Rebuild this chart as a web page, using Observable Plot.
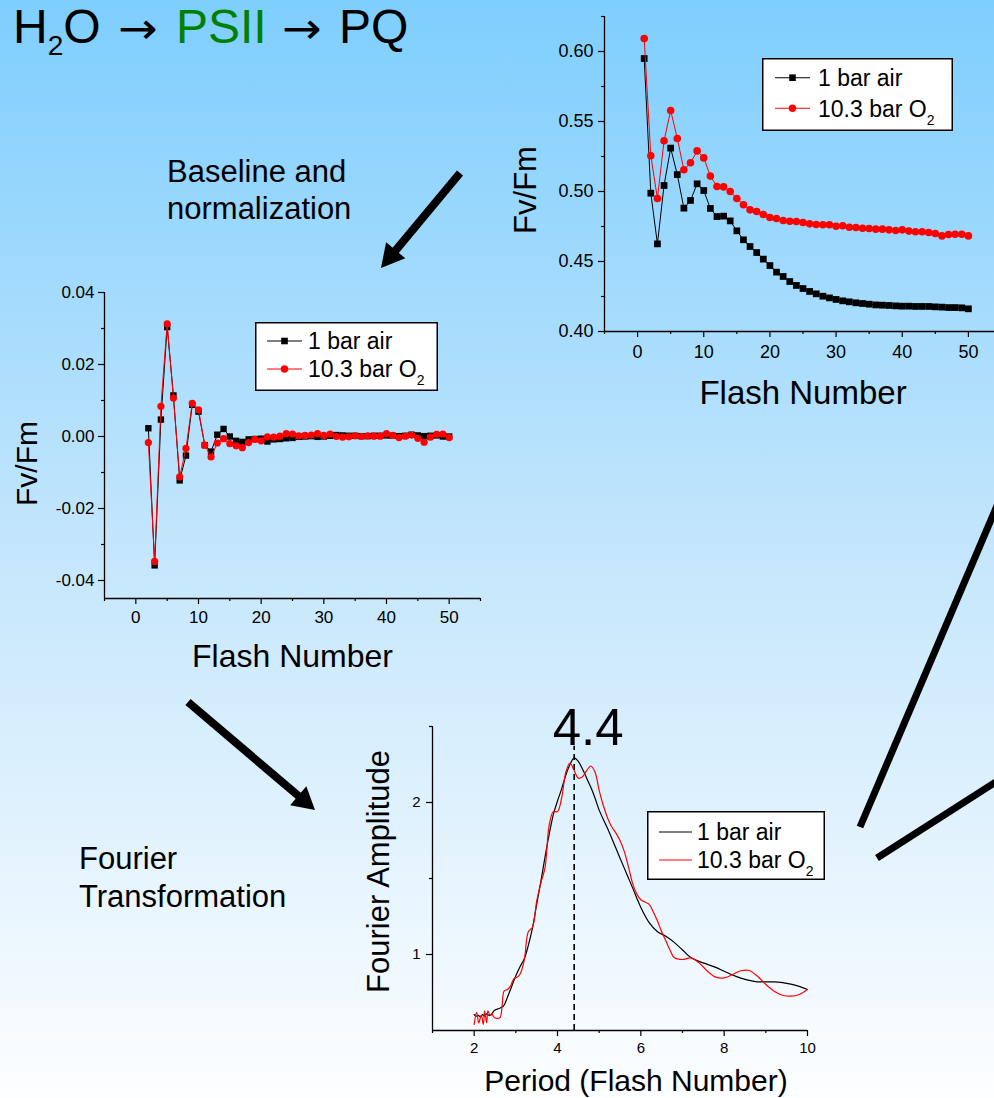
<!DOCTYPE html>
<html>
<head>
<meta charset="utf-8">
<script src="https://cdn.jsdelivr.net/npm/d3@7"></script>
<script src="https://cdn.jsdelivr.net/npm/@observablehq/plot@0.6"></script>
<style>
  html, body { margin: 0; padding: 0; overflow: hidden; }
  body {
    width: 994px; height: 1098px; position: relative;
    background: linear-gradient(to bottom, #7ecefe 0%, #c4e6fc 50%, #fdfeff 100%);
    font-family: "Liberation Sans", Arial, Helvetica, sans-serif;
  }
  .chart { position: absolute; }
</style>
</head>
<body>
<script>
// ---------------- DATA ----------------
const seriesNames = ["1 bar air", "10.3 bar O2"];
const seriesColors = ["#000000", "#ff0000"];

const flashNumbers = [1,2,3,4,5,6,7,8,9,10,11,12,13,14,15,16,17,18,19,20,21,22,23,24,25,26,27,28,29,30,31,32,33,34,35,36,37,38,39,40,41,42,43,44,45,46,47,48,49,50];

// Raw Fv/Fm (top-right chart)
const rawAir = [0.595,0.4988,0.4626,0.5043,0.531,0.5121,0.4881,0.4936,0.5055,0.5007,0.4879,0.4821,0.4824,0.479,0.4719,0.4655,0.4607,0.4564,0.4517,0.4471,0.4424,0.4393,0.4357,0.4329,0.4307,0.4286,0.4269,0.4252,0.424,0.4229,0.4219,0.4212,0.4205,0.42,0.4195,0.419,0.4188,0.4186,0.4183,0.4181,0.4181,0.4179,0.4179,0.4179,0.4176,0.4174,0.4171,0.4171,0.4169,0.4162];
const rawO2 = [0.6093,0.5255,0.495,0.5362,0.5579,0.5379,0.5155,0.5205,0.529,0.524,0.511,0.5036,0.5033,0.5,0.495,0.4905,0.4869,0.4857,0.4836,0.4814,0.4807,0.4793,0.4788,0.4786,0.4779,0.4769,0.4764,0.4762,0.4762,0.4752,0.4755,0.4745,0.4743,0.4738,0.4736,0.4731,0.4731,0.4726,0.4721,0.4726,0.4717,0.4712,0.4712,0.4707,0.47,0.4683,0.4693,0.4695,0.4695,0.4683];

// Baseline-corrected, normalized Fv/Fm (flashes 2..50)
const normFlashes = [2,3,4,5,6,7,8,9,10,11,12,13,14,15,16,17,18,19,20,21,22,23,24,25,26,27,28,29,30,31,32,33,34,35,36,37,38,39,40,41,42,43,44,45,46,47,48,49,50];
const normAir = [0.0023,-0.0358,0.0047,0.0304,0.0114,-0.0122,-0.0053,0.0088,0.0069,-0.0024,-0.0042,0.0005,0.0021,0.0,-0.0012,-0.0015,-0.0008,-0.0007,-0.0006,-0.0014,-0.0008,-0.0007,-0.0005,-0.0004,-0.0001,0.0,0.0001,-0.0001,0.0,0.0002,0.0004,0.0003,0.0002,0.0002,0.0001,0.0001,0.0002,0.0002,0.0003,0.0002,0.0001,0.0002,0.0005,0.0003,0.0001,0.0002,0.0003,0.0,0.0];
const normO2 = [-0.0017,-0.0347,0.0084,0.0313,0.0107,-0.0112,-0.0033,0.0092,0.0074,-0.0024,-0.0057,-0.0018,-0.0006,-0.002,-0.0026,-0.0031,-0.0017,-0.0008,-0.0012,-0.0001,-0.0002,0.0001,0.0008,0.0007,0.0002,0.0003,0.0004,0.0008,0.0003,0.0007,0.0,-0.0002,-0.0001,0.0002,0.0,0.0002,0.0001,0.0001,0.0008,0.0003,-0.0003,0.0001,0.0004,-0.0005,-0.0016,-0.0002,0.0006,0.0007,-0.0003];

// Fourier amplitude vs period
const periodAir = [2.0,2.05,2.1,2.15,2.2,2.25,2.3,2.35,2.4,2.45,2.5,2.6,2.7,2.8,2.9,3.0,3.1,3.2,3.3,3.4,3.5,3.6,3.7,3.8,3.9,4.0,4.1,4.2,4.3,4.4,4.5,4.6,4.7,4.8,4.9,5.0,5.2,5.4,5.6,5.8,6.0,6.2,6.4,6.6,6.8,7.0,7.2,7.4,7.6,7.8,8.0,8.2,8.4,8.6,8.8,9.0,9.2,9.4,9.6,9.8,10.0];
const ampAir = [0.605,0.595,0.60,0.59,0.605,0.595,0.61,0.60,0.60,0.62,0.635,0.645,0.66,0.72,0.79,0.86,0.92,0.97,1.06,1.175,1.33,1.48,1.64,1.79,1.92,2.01,2.09,2.18,2.25,2.294,2.27,2.22,2.16,2.10,2.03,1.95,1.83,1.70,1.57,1.44,1.31,1.21,1.15,1.12,1.08,1.03,0.98,0.955,0.935,0.915,0.89,0.865,0.845,0.83,0.82,0.82,0.82,0.815,0.805,0.79,0.77];
const periodO2 = [2.0,2.06,2.11,2.17,2.22,2.25,2.30,2.33,2.38,2.43,2.47,2.54,2.62,2.67,2.72,2.8,2.87,2.95,3.03,3.1,3.2,3.3,3.4,3.5,3.6,3.7,3.8,3.9,4.0,4.1,4.2,4.3,4.4,4.5,4.6,4.7,4.8,4.9,5.0,5.1,5.2,5.3,5.4,5.5,5.6,5.7,5.8,5.9,6.0,6.1,6.2,6.3,6.4,6.5,6.6,6.7,6.8,7.0,7.2,7.4,7.6,7.8,8.0,8.2,8.4,8.6,8.8,9.0,9.2,9.4,9.6,9.8,10.0];
const ampO2 = [0.54,0.62,0.55,0.60,0.54,0.63,0.55,0.63,0.60,0.61,0.59,0.58,0.585,0.66,0.76,0.77,0.79,0.84,0.85,0.87,0.96,1.15,1.18,1.35,1.47,1.57,1.85,1.94,1.94,2.03,2.2,2.26,2.21,2.16,2.17,2.21,2.24,2.2,2.08,1.98,1.90,1.84,1.80,1.75,1.68,1.58,1.47,1.40,1.36,1.345,1.33,1.28,1.22,1.15,1.09,1.03,0.98,0.967,0.978,0.945,0.89,0.851,0.846,0.868,0.893,0.895,0.857,0.803,0.759,0.732,0.726,0.737,0.77];
const peakPeriod = 4.4;
const peakLabelY = 2.37;

// Tick values
const flashTicksMajor = [0, 10, 20, 30, 40, 50];
const flashTicksMinor = [-5, 5, 15, 25, 35, 45, 55];
const rawTicksMajor = [0.40, 0.45, 0.50, 0.55, 0.60];
const rawTicksMinor = [0.425, 0.475, 0.525, 0.575, 0.625];
const normTicksMajor = [-0.04, -0.02, 0.00, 0.02, 0.04];
const normTicksMinor = [-0.03, -0.01, 0.01, 0.03];
const periodTicksMajor = [2, 4, 6, 8, 10];
const periodTicksMinor = [1, 3, 5, 7, 9];
const ampTicksMajor = [1, 2];
const ampTicksMinor = [1.5, 2.5];

// ---------------- HELPERS ----------------
const FONT = '"Liberation Sans", Arial, Helvetica, sans-serif';
const fmt2 = d => d.toFixed(2);

function originAxes({xDomain, yDomain, xMajor, xMinor, yMajor, yMinor, xFmt, yFmt, fs, xPad, yPad}) {
  return [
    Plot.axisX({ticks: xMajor, tickSize: 6, tickPadding: xPad, tickFormat: xFmt, fontSize: fs, label: null, strokeWidth: 1.2}),
    Plot.axisX({ticks: xMinor, tickSize: 3, tickFormat: () => "", label: null, strokeWidth: 1.2}),
    Plot.axisY({ticks: yMajor, tickSize: 6, tickPadding: yPad, tickFormat: yFmt, fontSize: fs, label: null, strokeWidth: 1.2}),
    Plot.axisY({ticks: yMinor, tickSize: 3, tickFormat: () => "", label: null, strokeWidth: 1.2}),
    Plot.ruleY([yDomain[0]], {stroke: "#000", strokeWidth: 1.3}),
    Plot.ruleX([xDomain[0]], {stroke: "#000", strokeWidth: 1.3})
  ];
}
const plotStyle = {background: "transparent", fontFamily: FONT, color: "#000", overflow: "visible"};

function place(el, left, top) {
  el.classList.add("chart");
  el.style.left = left + "px";
  el.style.top = top + "px";
  document.body.appendChild(el);
}

function legend({left, top, w, h, rows, sample, textX, fs, markers}) {
  const svg = d3.create("svg").attr("width", w).attr("height", h)
    .style("position", "absolute").style("left", left + "px").style("top", top + "px").style("overflow", "visible");
  svg.append("rect").attr("x", 0.75).attr("y", 0.75).attr("width", w - 1.5).attr("height", h - 1.5)
    .attr("fill", "#fff").attr("stroke", "#000").attr("stroke-width", 1.5);
  seriesNames.forEach((name, i) => {
    const cy = rows[i], color = seriesColors[i];
    svg.append("line").attr("x1", sample[0]).attr("x2", sample[1]).attr("y1", cy).attr("y2", cy)
      .attr("stroke", color).attr("stroke-width", 1.1);
    const mx = (sample[0] + sample[1]) / 2;
    if (markers) {
      if (i === 0) svg.append("rect").attr("x", mx - 3.3).attr("y", cy - 3.3).attr("width", 6.6).attr("height", 6.6).attr("fill", color);
      else svg.append("circle").attr("cx", mx).attr("cy", cy).attr("r", 3.7).attr("fill", color);
    }
    const t = svg.append("text").attr("x", textX).attr("y", cy + 0.358 * fs)
      .attr("font-size", fs).attr("font-family", FONT).attr("fill", "#000");
    const m = name.match(/^(.*O)(2)$/);
    if (m) {
      t.append("tspan").text(m[1]);
      t.append("tspan").attr("font-size", 14).attr("dy", 8).text(m[2]);
    } else t.text(name);
  });
  document.body.appendChild(svg.node());
}

// ---------------- CHART A: raw Fv/Fm ----------------
const rawRows = flashNumbers.map((f, i) => ({flash: f, air: rawAir[i], o2: rawO2[i]}));
const xA = [-5, 55], yA = [0.40, 0.625];
const chartA = Plot.plot({
  width: 501, height: 411, marginLeft: 104, marginRight: 0, marginTop: 16, marginBottom: 80,
  x: {domain: xA, label: null}, y: {domain: yA, label: null},
  style: plotStyle,
  marks: [
    ...originAxes({xDomain: xA, yDomain: yA, xMajor: flashTicksMajor, xMinor: flashTicksMinor,
      yMajor: rawTicksMajor, yMinor: rawTicksMinor, xFmt: d => String(d), yFmt: fmt2, fs: 18, xPad: 8, yPad: 5}),
    Plot.line(rawRows, {x: "flash", y: "air", stroke: seriesColors[0], strokeWidth: 1}),
    Plot.dot(rawRows, {x: "flash", y: "air", symbol: "square", r: 3.8, fill: seriesColors[0]}),
    Plot.line(rawRows, {x: "flash", y: "o2", stroke: seriesColors[1], strokeWidth: 1}),
    Plot.dot(rawRows, {x: "flash", y: "o2", symbol: "circle", r: 3.8, fill: seriesColors[1]}),
    Plot.text(["Flash Number"], {text: d => d, frameAnchor: "bottom", lineAnchor: "top", dy: 49, fontSize: 33}),
    Plot.text(["Fv/Fm"], {text: d => d, frameAnchor: "left", textAnchor: "middle", rotate: -90, lineAnchor: "middle", dx: -78, dy: 16, fontSize: 31})
  ]
});
place(chartA, 500, 0);

// ---------------- CHART B: normalized ----------------
const normRows = normFlashes.map((f, i) => ({flash: f, air: normAir[i], o2: normO2[i]}));
const xB = [-5, 55], yB = [-0.045, 0.04];
const chartB = Plot.plot({
  width: 490, height: 408, marginLeft: 104, marginRight: 10, marginTop: 22, marginBottom: 80,
  x: {domain: xB, label: null}, y: {domain: yB, label: null},
  style: plotStyle,
  marks: [
    ...originAxes({xDomain: xB, yDomain: yB, xMajor: flashTicksMajor, xMinor: flashTicksMinor,
      yMajor: normTicksMajor, yMinor: normTicksMinor, xFmt: d => String(d), yFmt: fmt2, fs: 17, xPad: 6, yPad: 4}),
    Plot.line(normRows, {x: "flash", y: "air", stroke: seriesColors[0], strokeWidth: 1}),
    Plot.dot(normRows, {x: "flash", y: "air", symbol: "square", r: 3.6, fill: seriesColors[0]}),
    Plot.line(normRows, {x: "flash", y: "o2", stroke: seriesColors[1], strokeWidth: 1}),
    Plot.dot(normRows, {x: "flash", y: "o2", symbol: "circle", r: 3.6, fill: seriesColors[1]}),
    Plot.text(["Flash Number"], {text: d => d, frameAnchor: "bottom", lineAnchor: "top", dy: 46, fontSize: 32}),
    Plot.text(["Fv/Fm"], {text: d => d, frameAnchor: "left", textAnchor: "middle", rotate: -90, lineAnchor: "middle", dx: -77, dy: 18, fontSize: 30})
  ]
});
place(chartB, 0, 270);

// ---------------- CHART C: Fourier ----------------
const fAir = periodAir.map((p, i) => ({period: p, amp: ampAir[i]}));
const fO2 = periodO2.map((p, i) => ({period: p, amp: ampO2[i]}));
const xC = [1, 10], yC = [0.5, 2.5];
const chartC = Plot.plot({
  width: 480, height: 408, marginLeft: 92, marginRight: 13, marginTop: 36, marginBottom: 68,
  x: {domain: xC, label: null}, y: {domain: yC, label: null},
  style: plotStyle,
  marks: [
    ...originAxes({xDomain: xC, yDomain: yC, xMajor: periodTicksMajor, xMinor: periodTicksMinor,
      yMajor: ampTicksMajor, yMinor: ampTicksMinor, xFmt: d => String(d), yFmt: d => String(d), fs: 15, xPad: 6, yPad: 6}),
    Plot.ruleX([peakPeriod], {y1: yC[0], y2: peakLabelY, stroke: "#000", strokeWidth: 1.6, strokeDasharray: "6,4"}),
    Plot.line(fAir, {x: "period", y: "amp", stroke: seriesColors[0], strokeWidth: 1.2, curve: "catmull-rom"}),
    Plot.line(fO2, {x: "period", y: "amp", stroke: seriesColors[1], strokeWidth: 1.2, curve: "catmull-rom"}),
    Plot.text([peakPeriod], {x: d => d, y: () => peakLabelY, text: d => d.toFixed(1), lineAnchor: "bottom", dx: 14, dy: -1, fontSize: 51}),
    Plot.text(["Period (Flash Number)"], {text: d => d, frameAnchor: "bottom", lineAnchor: "top", dx: 16, dy: 39, fontSize: 30}),
    Plot.text(["Fourier Amplitude"], {text: d => d, frameAnchor: "left", textAnchor: "middle", rotate: -90, lineAnchor: "middle", dx: -53, dy: -7, fontSize: 31})
  ]
});
place(chartC, 340, 690);

// ---------------- LEGENDS ----------------
legend({left: 762, top: 58, w: 191, h: 73, rows: [19.7, 50.3], sample: [13, 48], textX: 56, fs: 23, markers: true});
legend({left: 255, top: 322, w: 183, h: 69, rows: [19, 47], sample: [12, 47], textX: 53, fs: 23, markers: true});
legend({left: 647, top: 811, w: 178, h: 69, rows: [21, 49], sample: [12, 45], textX: 50, fs: 23, markers: false});

// ---------------- OVERLAY: title, annotations, arrows ----------------
const ov = d3.create("svg").attr("width", 994).attr("height", 1098)
  .style("position", "absolute").style("left", "0px").style("top", "0px").style("pointer-events", "none");

const title = ov.append("text").attr("y", 43).attr("font-size", 48).attr("font-family", FONT).attr("fill", "#000");
title.append("tspan").attr("x", 13).text("H");
title.append("tspan").attr("font-size", 28).attr("dy", 12).text("2");
title.append("tspan").attr("dy", -12).text("O");
title.append("tspan").attr("x", 176).attr("fill", "#008000").text("PSII");
title.append("tspan").attr("x", 339).text("PQ");
// arrow glyphs of the title, slightly widened
[118, 282].forEach(x => {
  ov.append("text").attr("transform", `translate(${x},43) scale(1.1,1)`)
    .attr("font-size", 43).attr("font-family", '"DejaVu Sans", sans-serif').attr("fill", "#000").text("\u2192");
});

function lines(x, ys, texts) {
  texts.forEach((s, i) => ov.append("text").attr("x", x).attr("y", ys[i]).attr("font-size", 31)
    .attr("font-family", FONT).attr("fill", "#000").text(s));
}
lines(167, [182, 219], ["Baseline and", "normalization"]);
lines(79, [869, 907], ["Fourier", "Transformation"]);

function arrow(x0, y0, x1, y1, w, L, H) {
  const dx = x1 - x0, dy = y1 - y0, len = Math.hypot(dx, dy);
  const ux = dx / len, uy = dy / len, nx = -uy, ny = ux;
  const bx = x1 - ux * L, by = y1 - uy * L;
  ov.append("line").attr("x1", x0).attr("y1", y0).attr("x2", bx + ux * 2).attr("y2", by + uy * 2)
    .attr("stroke", "#000").attr("stroke-width", w);
  ov.append("polygon").attr("points", [[x1, y1], [bx + nx * H, by + ny * H], [bx - nx * H, by - ny * H]].map(p => p.join(",")).join(" "))
    .attr("fill", "#000");
}
arrow(460, 173, 381, 268, 8, 23, 12.5);
arrow(188, 702, 315, 810, 8, 22, 12.5);
ov.append("line").attr("x1", 860).attr("y1", 827).attr("x2", 1002).attr("y2", 494).attr("stroke", "#000").attr("stroke-width", 7);
ov.append("line").attr("x1", 877).attr("y1", 858).attr("x2", 1002).attr("y2", 778).attr("stroke", "#000").attr("stroke-width", 7);

document.body.appendChild(ov.node());
</script>
</body>
</html>
